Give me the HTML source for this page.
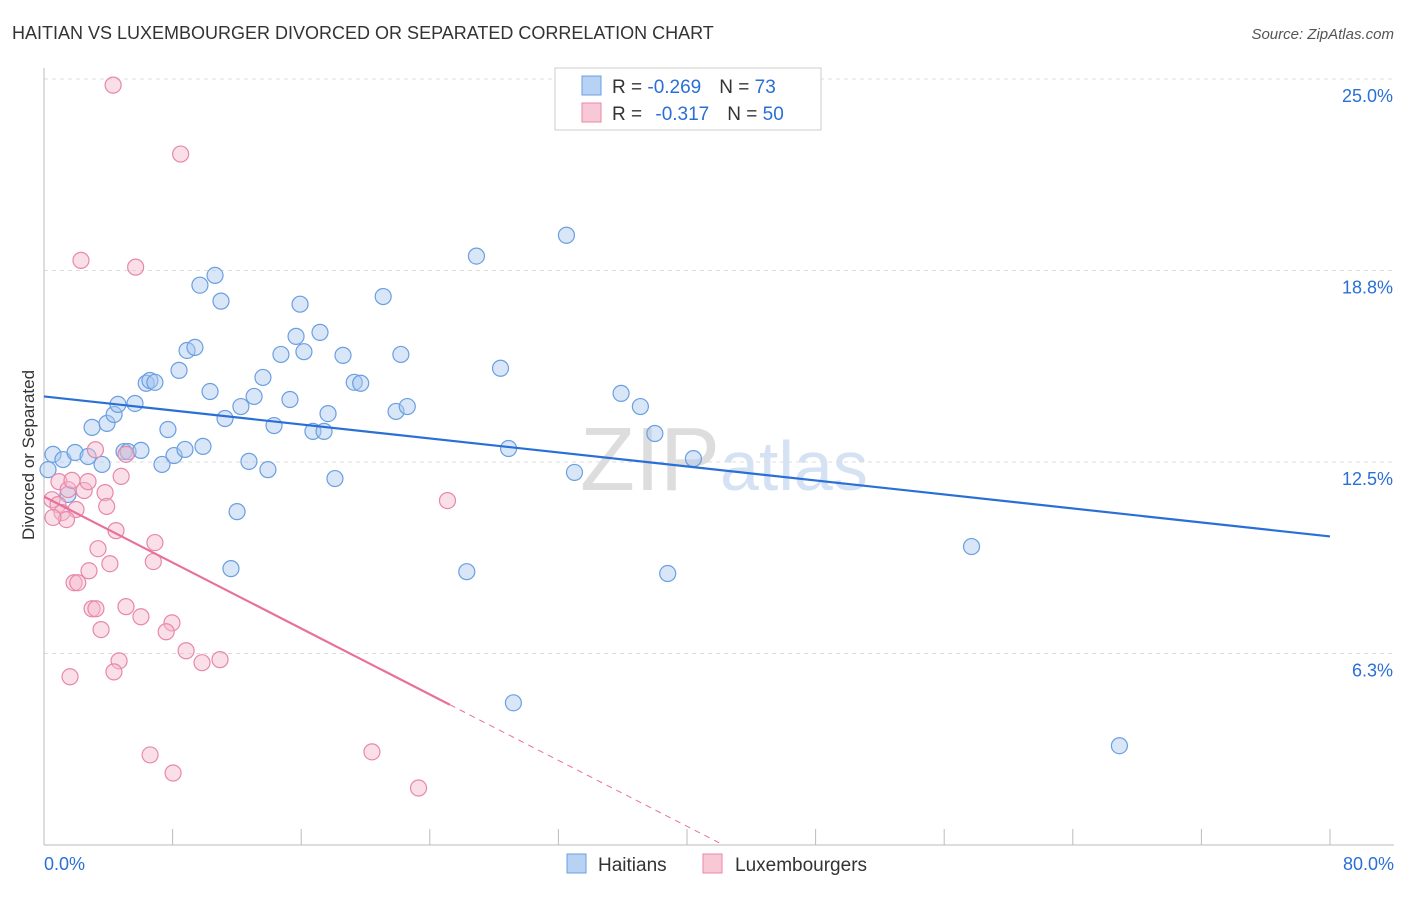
<!DOCTYPE html>
<html><head><meta charset="utf-8"><style>
body{margin:0;background:#fff;font-family:"Liberation Sans",sans-serif;}
svg text{font-family:"Liberation Sans",sans-serif;}
</style></head><body>
<svg id="c" width="1406" height="892">
<text x="12" y="39" font-size="18" fill="#333">HAITIAN VS LUXEMBOURGER DIVORCED OR SEPARATED CORRELATION CHART</text>
<text x="1394" y="39" font-size="15" fill="#555" font-style="italic" text-anchor="end">Source: ZipAtlas.com</text>
<text x="720" y="490" font-size="90" fill="#ddd" text-anchor="end" font-family="Liberation Serif">ZIP</text>
<text x="720" y="490" font-size="70" fill="#d4e2f4">atlas</text>
<text transform="translate(34,455) rotate(-90)" font-size="17" fill="#333" text-anchor="middle">Divorced or Separated</text>
<g id="grid"></g><g id="marks"></g>
<g>
<rect x="555" y="68" width="266" height="62" fill="#fff" stroke="#ccc"/>
<rect x="582" y="76" width="19" height="19" fill="#b8d2f4" stroke="#6a9fe0"/>
<rect x="582" y="103" width="19" height="19" fill="#f9c8d6" stroke="#e888a8"/>
<text x="612" y="93" font-size="19" fill="#333">R = <tspan fill="#2a6fd6">-0.269</tspan><tspan dx="18">N = </tspan><tspan fill="#2a6fd6">73</tspan></text>
<text x="612" y="120" font-size="19" fill="#333">R = <tspan dx="8" fill="#2a6fd6">-0.317</tspan><tspan dx="18">N = </tspan><tspan fill="#2a6fd6">50</tspan></text>
</g>
<g>
<rect x="567" y="854" width="19" height="19" fill="#b8d2f4" stroke="#6a9fe0"/>
<text x="598" y="871" font-size="19" fill="#333">Haitians</text>
<rect x="703" y="854" width="19" height="19" fill="#f9c8d6" stroke="#e888a8"/>
<text x="735" y="871" font-size="19" fill="#333">Luxembourgers</text>
</g>
</svg>
<script>
const yTicks=[25.0,18.8,12.5,6.3];
const yTickVals=[25,18.75,12.5,6.25];
const xTicks=[0,8,16,24,32,40,48,56,64,72,80];
const blueX=[0.56,1.18,1.93,2.74,3.61,0.25,1.49,2.99,3.92,4.36,4.6,5.66,4.98,5.23,6.03,6.36,6.59,6.9,7.71,7.34,8.09,8.4,8.77,8.9,9.39,9.7,9.89,10.33,10.64,11.01,11.26,12.01,11.63,12.25,13.07,12.75,13.62,13.93,14.31,14.74,15.3,15.93,16.17,15.68,16.73,17.17,17.42,17.67,18.1,18.6,19.3,19.7,21.1,21.9,22.2,22.6,26.3,26.9,28.4,28.9,29.2,32.5,33.0,35.9,37.1,38.0,38.8,40.4,57.7,66.9];
const blueY=[12.75,12.58,12.81,12.68,12.42,12.25,11.44,13.63,13.76,14.05,14.38,14.41,12.84,12.84,12.88,15.07,15.16,15.1,13.56,12.42,12.71,15.49,12.91,16.14,16.24,18.27,13.01,14.8,18.59,17.75,13.92,10.88,9.02,14.31,14.64,12.52,15.26,12.25,13.69,16.01,14.54,17.65,16.1,16.6,13.5,16.73,13.5,14.08,11.96,15.98,15.1,15.07,17.9,14.15,16.01,14.31,8.92,19.22,15.56,12.94,4.64,19.9,12.16,14.74,14.31,13.43,8.86,12.61,9.74,3.24];
const pinkX=[4.3,8.5,2.3,5.7,3.2,5.1,0.93,1.5,2.5,1.74,2.74,3.8,4.8,0.5,0.87,1.99,3.9,1.12,1.4,0.56,4.48,3.36,6.9,4.1,6.8,2.8,1.87,2.1,2.99,3.23,5.1,6.03,7.96,7.6,3.55,8.84,9.83,10.95,4.67,4.35,1.62,6.6,8.03,20.4,23.3,25.1];
const pinkY=[24.8,22.55,19.08,18.86,12.9,12.75,11.86,11.6,11.57,11.9,11.86,11.5,12.03,11.27,11.11,10.95,11.05,10.85,10.62,10.69,10.26,9.67,9.87,9.18,9.25,8.95,8.56,8.56,7.71,7.71,7.78,7.45,7.25,6.96,7.03,6.34,5.95,6.05,6.01,5.65,5.49,2.94,2.35,3.04,1.86,11.24];
const blueTrend=[14.64,10.07];
const pinkTrend=[11.37,0.269];
const X=v=>44+v*(1330-44)/80, Y=v=>845-v*30.64;
const NS='http://www.w3.org/2000/svg';
function mk(p,t,a){const e=document.createElementNS(NS,t);for(const k in a)e.setAttribute(k,a[k]);p.appendChild(e);return e;}
const g=document.getElementById('grid'),m=document.getElementById('marks');
yTickVals.forEach((v,i)=>{const l=mk(g,'line',{x1:44,x2:1394,y1:Y(v),y2:Y(v),stroke:'#ddd','stroke-dasharray':'4,4'});


const t=mk(g,'text',{x:1393,y:Y(v)+23,'font-size':18,fill:'#2a6fd6','text-anchor':'end'});t.textContent=yTicks[i].toFixed(1)+'%';

});
const ax=mk(g,'line',{x1:44,x2:1394,y1:845,y2:845,stroke:'#bbb'});


const ay=mk(g,'line',{x1:44,x2:44,y1:68,y2:845,stroke:'#bbb'});


xTicks.forEach(v=>{const l=mk(g,'line',{x1:X(v),x2:X(v),y1:829,y2:845,stroke:'#bbb'});

});
[[0,'start',44],[80,'end',1394]].forEach(([v,a,x])=>{const t=mk(g,'text',{x:x,y:870,'font-size':18,fill:'#2a6fd6','text-anchor':a});t.textContent=v.toFixed(1)+'%';

});
blueX.forEach((v,i)=>{const c=mk(m,'circle',{cx:X(v),cy:Y(blueY[i]),r:8,fill:'rgba(168,200,240,0.45)',stroke:'#6a9fe0','stroke-width':1.2});

});
pinkX.forEach((v,i)=>{const c=mk(m,'circle',{cx:X(v),cy:Y(pinkY[i]),r:8,fill:'rgba(245,184,204,0.45)',stroke:'#e888a8','stroke-width':1.2});

});
const bl=mk(m,'line',{x1:X(0),y1:Y(blueTrend[0]),x2:X(80),y2:Y(blueTrend[1]),stroke:'#2a6fd6','stroke-width':2.2});


const pf=x=>pinkTrend[0]-pinkTrend[1]*x;
const pl=mk(m,'line',{x1:X(0),y1:Y(pf(0)),x2:X(25.25),y2:Y(pf(25.25)),stroke:'#e8709a','stroke-width':2.2});


const pd=mk(m,'line',{x1:X(25.25),y1:Y(pf(25.25)),x2:X(42),y2:Y(pf(42)),stroke:'#e8709a','stroke-width':1,'stroke-dasharray':'6,5'});


</script>
</body></html>
